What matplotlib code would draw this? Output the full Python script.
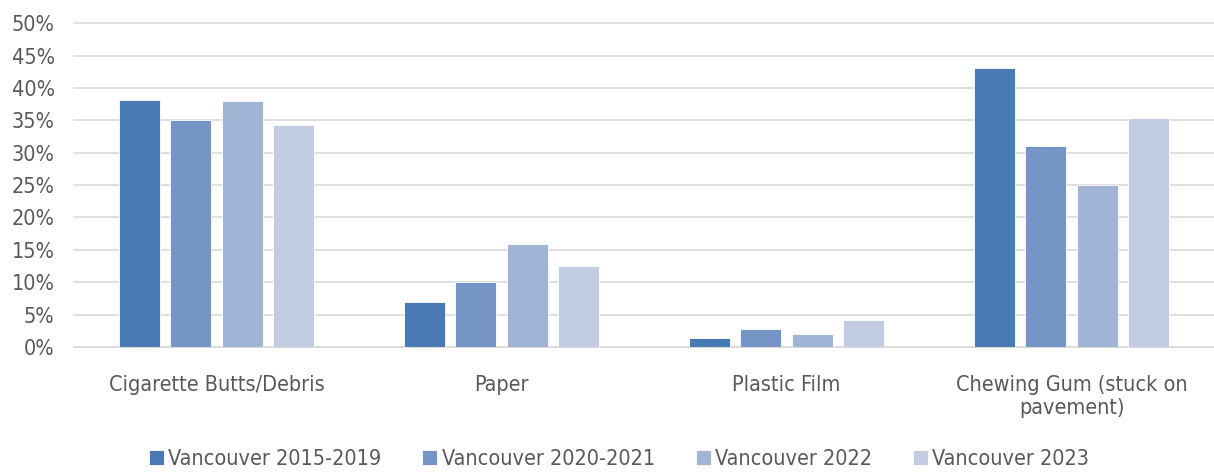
import matplotlib
matplotlib.use('Agg')
import matplotlib.pyplot as plt
import numpy as np
from matplotlib.ticker import PercentFormatter

categories = ["Cigarette Butts/Debris", "Paper", "Plastic Film", "Chewing Gum (stuck on\npavement)"]
series = ["Vancouver 2015-2019", "Vancouver 2020-2021", "Vancouver 2022", "Vancouver 2023"]
v2015_2019 = [38.1, 6.9, 1.4, 43.0]
v2020_2021 = [35.0, 10.0, 2.8, 31.0]
v2022 = [38.0, 15.9, 2.0, 25.0]
v2023 = [34.2, 12.5, 4.2, 35.4]
colors = ['#4a7ab4', '#7495c6', '#a2b4d6', '#c2cde3']

plt.rcParams['font.family'] = ['DejaVu Sans']
plt.rcParams['font.stretch'] = 'condensed'
txt = '#595959'

fig = plt.figure(figsize=(12.14, 4.72), dpi=100)
ax = fig.add_axes([0.061, 0.265, 0.939, 0.686])

x = np.arange(len(categories))
width = 0.144
step = 0.18
for i, (name, vals) in enumerate(zip(series, [v2015_2019, v2020_2021, v2022, v2023])):
    ax.bar(x + (i - 1.5) * step, vals, width, color=colors[i], label=name,
           edgecolor='white', linewidth=0.6, zorder=3)

ax.set_xlim(-0.5, 3.5)
ax.set_ylim(0, 50)
ax.set_yticks(range(0, 51, 5))
ax.yaxis.set_major_formatter(PercentFormatter(decimals=0))
ax.grid(axis='y', color='#d9d9d9', linewidth=1.2, zorder=0)
for gl in ax.get_ygridlines():
    gl.set_clip_on(False)
for s in ['top', 'right', 'left']:
    ax.spines[s].set_visible(False)
ax.spines['bottom'].set_color('#d9d9d9')
ax.spines['bottom'].set_linewidth(1.2)
ax.set_xticks(x)
ax.set_xticklabels(categories)
ax.tick_params(axis='both', length=0, colors=txt, labelsize=15.5)
ax.tick_params(axis='x', pad=20)
ax.tick_params(axis='y', pad=14)

leg = fig.legend(loc='lower center', bbox_to_anchor=(0.51, -0.035), ncol=4, frameon=False,
                 fontsize=15.5, handlelength=0.7, handleheight=0.7, handletextpad=0.2,
                 columnspacing=1.9, labelcolor=txt)

plt.savefig("out.png", dpi=100)
plt.close()
